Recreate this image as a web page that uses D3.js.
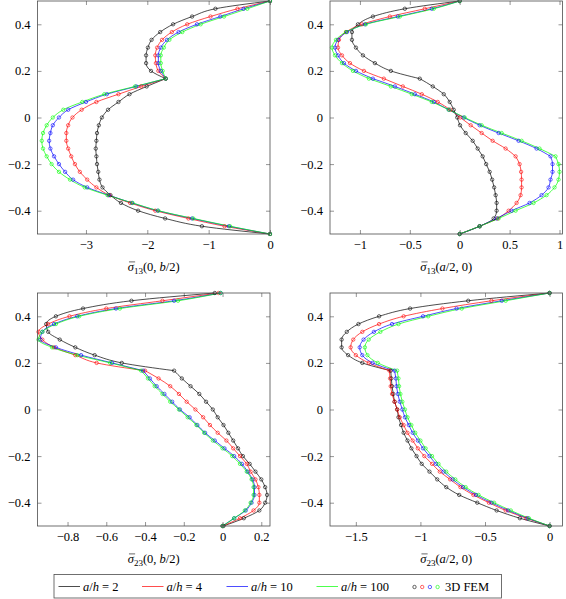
<!DOCTYPE html>
<html>
<head>
<meta charset="utf-8">
<script src="https://cdn.jsdelivr.net/npm/d3@7"></script>
<style>
  body { margin: 0; background: #fff; }
</style>
</head>
<body>
<svg id="chart" width="566" height="599"></svg>
<script>
/// data ////////////////////////////////
// thickness coordinate z/h, from bottom to top
const zPoints = [-0.5, -0.4667, -0.4333, -0.4, -0.3667, -0.3333, -0.3, -0.2667, -0.2333, -0.2, -0.1667,
  -0.1333, -0.1, -0.0667, -0.0333, 0, 0.0333, 0.0667, 0.1, 0.1333, 0.1667,
  0.2, 0.2333, 0.2667, 0.3, 0.3333, 0.3667, 0.4, 0.4333, 0.4667, 0.5]

const seriesNames = ['2', '4', '10', '100']
const seriesColors = ['#000000', '#ff0000', '#0000ff', '#00ff00']
const yTicks = [-0.4, -0.2, 0, 0.2, 0.4]

// sigma13(0, b/2)
const s13b_h2 = [0, -1.11, -1.71, -2.15, -2.43, -2.60, -2.73, -2.78, -2.80, -2.82, -2.83, -2.84, -2.83, -2.82, -2.79, -2.74, -2.64, -2.47, -2.29, -2.01, -1.70, -1.94, -2.02, -2.02, -1.99, -1.93, -1.79, -1.58, -1.27, -0.89, 0]
const s13b_h4 = [0, -0.74, -1.33, -1.87, -2.28, -2.62, -2.83, -2.98, -3.10, -3.18, -3.24, -3.29, -3.32, -3.32, -3.29, -3.22, -3.07, -2.83, -2.47, -2.10, -1.70, -1.82, -1.86, -1.87, -1.84, -1.76, -1.60, -1.35, -0.97, -0.53, 0]
const s13b_h10 = [0, -0.67, -1.27, -1.83, -2.25, -2.63, -2.98, -3.21, -3.34, -3.44, -3.52, -3.58, -3.60, -3.58, -3.54, -3.44, -3.29, -3.00, -2.66, -2.18, -1.70, -1.78, -1.82, -1.82, -1.78, -1.68, -1.49, -1.19, -0.81, -0.43, 0]
const s13b_h100 = [0, -0.65, -1.25, -1.82, -2.24, -2.65, -3.02, -3.26, -3.44, -3.56, -3.64, -3.70, -3.72, -3.70, -3.64, -3.54, -3.37, -3.06, -2.70, -2.20, -1.70, -1.75, -1.78, -1.78, -1.73, -1.64, -1.43, -1.13, -0.75, -0.37, 0]
const s13bTicks = [-3, -2, -1, 0]

// sigma13(a/2, 0)
const s13a_h2 = [0, 0.20, 0.34, 0.37, 0.37, 0.36, 0.345, 0.325, 0.30, 0.265, 0.23, 0.18, 0.13, 0.06, 0.003, -0.025, -0.06, -0.10, -0.16, -0.27, -0.40, -0.69, -0.85, -0.97, -1.04, -1.08, -1.08, -1.02, -0.87, -0.55, 0]
const s13a_h4 = [0, 0.20, 0.38, 0.49, 0.57, 0.61, 0.62, 0.62, 0.615, 0.60, 0.56, 0.46, 0.33, 0.22, 0.11, 0.005, -0.095, -0.22, -0.38, -0.57, -0.76, -0.96, -1.10, -1.18, -1.22, -1.21, -1.14, -0.98, -0.70, -0.35, 0]
const s13a_h10 = [0, 0.20, 0.37, 0.52, 0.70, 0.82, 0.89, 0.91, 0.93, 0.93, 0.91, 0.77, 0.59, 0.39, 0.20, 0.04, -0.11, -0.26, -0.45, -0.65, -0.87, -1.04, -1.16, -1.22, -1.25, -1.22, -1.13, -0.95, -0.62, -0.28, 0]
const s13a_h100 = [0, 0.20, 0.39, 0.56, 0.74, 0.87, 0.95, 0.99, 1.00, 0.99, 0.96, 0.80, 0.62, 0.42, 0.22, 0.05, -0.11, -0.28, -0.48, -0.69, -0.91, -1.07, -1.18, -1.25, -1.28, -1.24, -1.14, -0.94, -0.60, -0.26, 0]
const s13aTicks = [-1, -0.5, 0, 0.5, 1]

// sigma23(0, b/2)
const s23b_h2 = [0.005, 0.11, 0.19, 0.22, 0.23, 0.22, 0.20, 0.17, 0.14, 0.105, 0.08, 0.055, 0.03, 0.005, -0.025, -0.05, -0.085, -0.12, -0.165, -0.21, -0.25, -0.52, -0.66, -0.76, -0.84, -0.90, -0.91, -0.86, -0.72, -0.47, -0.04]
const s23b_h4 = [0, 0.09, 0.16, 0.19, 0.19, 0.185, 0.17, 0.145, 0.125, 0.09, 0.055, 0.02, -0.025, -0.065, -0.10, -0.14, -0.185, -0.225, -0.27, -0.33, -0.40, -0.65, -0.76, -0.87, -0.93, -0.95, -0.90, -0.79, -0.60, -0.31, -0.02]
const s23b_h10 = [0, 0.06, 0.12, 0.15, 0.165, 0.165, 0.155, 0.13, 0.10, 0.06, 0.01, -0.04, -0.09, -0.13, -0.17, -0.22, -0.26, -0.30, -0.34, -0.375, -0.41, -0.57, -0.73, -0.86, -0.94, -0.93, -0.87, -0.75, -0.55, -0.25, -0.01]
const s23b_h100 = [0, 0.06, 0.115, 0.145, 0.16, 0.16, 0.15, 0.125, 0.09, 0.05, 0.0, -0.05, -0.095, -0.135, -0.18, -0.225, -0.27, -0.31, -0.35, -0.385, -0.42, -0.58, -0.75, -0.88, -0.95, -0.93, -0.86, -0.74, -0.53, -0.23, -0.01]
const s23bTicks = [-0.8, -0.6, -0.4, -0.2, 0, 0.2]

// sigma23(a/2, 0)
const s23a_h2 = [0, -0.23, -0.41, -0.56, -0.70, -0.80, -0.87, -0.93, -0.99, -1.03, -1.07, -1.10, -1.13, -1.15, -1.17, -1.18, -1.20, -1.21, -1.22, -1.225, -1.23, -1.45, -1.56, -1.61, -1.61, -1.57, -1.48, -1.32, -1.08, -0.63, 0]
const s23a_h4 = [0, -0.18, -0.34, -0.47, -0.59, -0.69, -0.77, -0.85, -0.91, -0.97, -1.02, -1.06, -1.10, -1.13, -1.16, -1.18, -1.20, -1.22, -1.23, -1.235, -1.24, -1.40, -1.50, -1.54, -1.52, -1.45, -1.32, -1.13, -0.83, -0.45, 0]
const s23a_h10 = [0, -0.17, -0.32, -0.45, -0.57, -0.67, -0.75, -0.82, -0.88, -0.93, -0.98, -1.02, -1.06, -1.09, -1.12, -1.14, -1.16, -1.175, -1.185, -1.19, -1.20, -1.37, -1.45, -1.47, -1.44, -1.36, -1.22, -0.98, -0.72, -0.37, 0]
const s23a_h100 = [0, -0.16, -0.30, -0.43, -0.55, -0.65, -0.73, -0.80, -0.86, -0.91, -0.96, -1.00, -1.04, -1.07, -1.10, -1.12, -1.14, -1.155, -1.165, -1.17, -1.18, -1.33, -1.41, -1.43, -1.40, -1.31, -1.17, -0.94, -0.68, -0.34, 0]
const s23aTicks = [-1.5, -1, -0.5, 0]

/// layout ////////////////////////////////
const svg = d3.select('#chart')
const serif = '"Liberation Serif", serif'
const frameColor = '#4d4d4d'
const fontSize = 12.5
const plotW = 232.5
const plotH = 233

const panels = [
  { left: 37.5, top: 1, xDomain: [-3.79, 0], xTicks: s13bTicks, sub: '13', arg: [['(0, ', false], ['b', true], ['/2)', false]], data: [s13b_h2, s13b_h4, s13b_h10, s13b_h100] },
  { left: 330, top: 1, xDomain: [-1.3, 1.03], xTicks: s13aTicks, sub: '13', arg: [['(', false], ['a', true], ['/2, 0)', false]], data: [s13a_h2, s13a_h4, s13a_h10, s13a_h100] },
  { left: 37.5, top: 293, xDomain: [-0.955, 0.245], xTicks: s23bTicks, sub: '23', arg: [['(0, ', false], ['b', true], ['/2)', false]], data: [s23b_h2, s23b_h4, s23b_h10, s23b_h100] },
  { left: 330, top: 293, xDomain: [-1.7, 0.1], xTicks: s23aTicks, sub: '23', arg: [['(', false], ['a', true], ['/2, 0)', false]], data: [s23a_h2, s23a_h4, s23a_h10, s23a_h100] }
]

const numFormat = d3.format('')

function styleAxis(g) {
  g.select('.domain').remove()
  g.selectAll('.tick line').attr('stroke', frameColor).attr('stroke-width', 0.6)
  g.attr('font-size', fontSize)
  g.selectAll('.tick text').attr('fill', '#000')
}

const titles = []

panels.forEach(p => {
  const g = svg.append('g').attr('transform', `translate(${p.left},${p.top})`)

  const x = d3.scaleLinear().domain(p.xDomain).range([0, plotW])
  const y = d3.scaleLinear().domain([-0.5, 0.5]).range([plotH, 0])

  // axes, ticks pointing inwards on all four sides
  g.append('g')
    .attr('transform', `translate(0,${plotH})`)
    .call(d3.axisBottom(x).tickValues(p.xTicks).tickSizeInner(-4).tickSizeOuter(0).tickPadding(6).tickFormat(numFormat))
    .call(styleAxis)
  g.append('g')
    .call(d3.axisTop(x).tickValues(p.xTicks).tickSizeInner(-4).tickSizeOuter(0).tickFormat(''))
    .call(styleAxis)
  g.append('g')
    .call(d3.axisLeft(y).tickValues(yTicks).tickSizeInner(-4).tickSizeOuter(0).tickPadding(7).tickFormat(numFormat))
    .call(styleAxis)
  g.append('g')
    .attr('transform', `translate(${plotW},0)`)
    .call(d3.axisRight(y).tickValues(yTicks).tickSizeInner(-4).tickSizeOuter(0).tickFormat(''))
    .call(styleAxis)

  // curves, split at the layer interfaces z = +-1/6
  const line = d3.line()
    .x(d => x(d[0]))
    .y(d => y(d[1]))
    .curve(d3.curveMonotoneY)

  p.data.forEach((vals, k) => {
    const pts = vals.map((v, j) => [v, zPoints[j]]).reverse()
    const segs = [pts.slice(0, 11), pts.slice(10, 21), pts.slice(20)]
    g.append('path')
      .attr('d', segs.map(s => line(s)).join(''))
      .attr('fill', 'none')
      .attr('stroke', seriesColors[k])
      .attr('stroke-width', 0.7)
  })

  // 3D FEM markers
  p.data.forEach((vals, k) => {
    g.append('g')
      .selectAll('circle')
      .data(vals.map((v, j) => [v, zPoints[j]]))
      .enter()
      .append('circle')
      .attr('cx', d => x(d[0]))
      .attr('cy', d => y(d[1]))
      .attr('r', 1.7)
      .attr('fill', 'none')
      .attr('stroke', seriesColors[k])
      .attr('stroke-width', 0.6)
  })

  // frame
  g.append('rect')
    .attr('width', plotW)
    .attr('height', plotH)
    .attr('fill', 'none')
    .attr('stroke', frameColor)
    .attr('stroke-width', 0.8)

  // axis title: sigma with a bar, subscript, arguments
  const title = g.append('text')
    .attr('x', plotW / 2)
    .attr('y', plotH + 36.5)
    .attr('text-anchor', 'middle')
    .attr('font-size', fontSize)
  title.append('tspan').attr('font-style', 'italic').text('\u03C3')
  title.append('tspan').attr('font-size', 9).attr('dy', 3).text(p.sub)
  p.arg.forEach((a, i) => {
    const t = title.append('tspan').text(a[0])
    if (i === 0) t.attr('dy', -3)
    if (a[1]) t.attr('font-style', 'italic')
  })
  titles.push({ g, title, baseline: plotH + 36.5 })
})

/// legend ////////////////////////////////
const legend = svg.append('g').attr('font-size', fontSize)
legend.append('rect')
  .attr('x', 54)
  .attr('y', 574.5)
  .attr('width', 447.5)
  .attr('height', 23.5)
  .attr('fill', '#fff')
  .attr('stroke', frameColor)
  .attr('stroke-width', 0.8)

const legendX = [58.5, 142, 226.5, 316.5]
seriesNames.forEach((name, k) => {
  legend.append('line')
    .attr('x1', legendX[k])
    .attr('x2', legendX[k] + 21.5)
    .attr('y1', 586.5)
    .attr('y2', 586.5)
    .attr('stroke', seriesColors[k])
    .attr('stroke-width', 0.7)
  const t = legend.append('text')
    .attr('x', legendX[k] + 24.5)
    .attr('y', 590.8)
  t.append('tspan').attr('font-style', 'italic').text('a')
  t.append('tspan').text('/')
  t.append('tspan').attr('font-style', 'italic').text('h')
  t.append('tspan').text(' = ' + name)
})

seriesColors.forEach((c, k) => {
  legend.append('circle')
    .attr('cx', 414.5 + k * 7.7)
    .attr('cy', 587)
    .attr('r', 1.7)
    .attr('fill', 'none')
    .attr('stroke', c)
    .attr('stroke-width', 0.6)
})
legend.append('text')
  .attr('x', 445)
  .attr('y', 590.8)
  .text('3D FEM')

// serif font on every text
svg.selectAll('text').style('font-family', serif)

// bar over sigma, measured from the rendered glyph
titles.forEach(t => {
  const node = t.title.node()
  const s = node.getStartPositionOfChar(0)
  const e = node.getEndPositionOfChar(0)
  t.g.append('line')
    .attr('x1', s.x + 1.2)
    .attr('x2', e.x + 1.2)
    .attr('y1', t.baseline - 8.6)
    .attr('y2', t.baseline - 8.6)
    .attr('stroke', '#000')
    .attr('stroke-width', 0.6)
})
</script>
</body>
</html>
